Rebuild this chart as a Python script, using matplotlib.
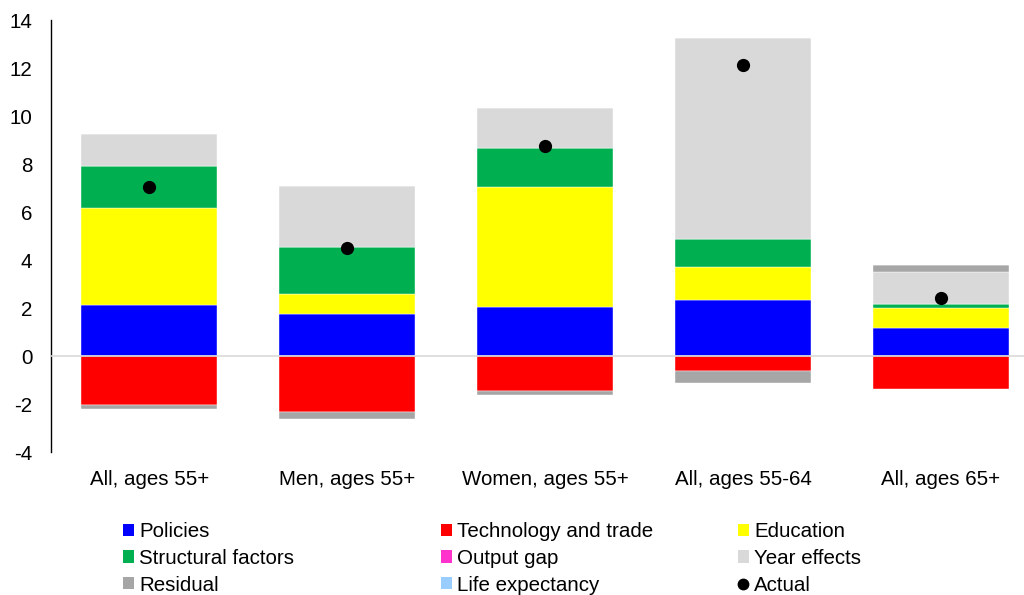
import numpy as np
import matplotlib.pyplot as plt
from matplotlib.patches import Patch
from matplotlib.lines import Line2D

plt.rcParams['font.family'] = ['Liberation Sans', 'DejaVu Sans']
plt.rcParams['axes.unicode_minus'] = False

# =========================
# DATA
# =========================
categories = ["All, ages 55+", "Men, ages 55+", "Women, ages 55+", "All, ages 55-64", "All, ages 65+"]

policies = [2.14, 1.74, 2.04, 2.32, 1.18]
technology = [-2.04, -2.33, -1.46, -0.62, -1.36]
education = [4.03, 0.83, 5.01, 1.39, 0.83]
structural = [1.75, 1.98, 1.62, 1.15, 0.16]
output_gap = [0.0, 0.0, 0.0, 0.0, 0.0]
year_effects = [1.33, 2.55, 1.68, 8.39, 1.33]
residual = [-0.18, -0.28, -0.17, -0.52, 0.28]
life_exp = [0.0, 0.0, 0.0, 0.0, 0.0]
actual = [7.05, 4.51, 8.74, 12.13, 2.43]

series = [
    ("Policies", policies, "#0000FF"),
    ("Technology and trade", technology, "#FF0000"),
    ("Education", education, "#FFFF00"),
    ("Structural factors", structural, "#00B050"),
    ("Output gap", output_gap, "#FF33CC"),
    ("Year effects", year_effects, "#D9D9D9"),
    ("Residual", residual, "#A6A6A6"),
    ("Life expectancy", life_exp, "#99CCFF"),
]

# =========================
# PLOT
# =========================
fig = plt.figure(figsize=(10.24, 5.95), dpi=100)
ax = fig.add_axes([51 / 1024, 1 - 452 / 595, 1 - 51 / 1024, 432 / 595])

x = np.arange(len(categories))
width = 0.69
pos_bottom = np.zeros(len(categories))
neg_bottom = np.zeros(len(categories))

for name, vals, color in series:
    vals = np.array(vals)
    bottom = np.where(vals >= 0, pos_bottom, neg_bottom)
    ax.bar(x, vals, width, bottom=bottom, color=color, edgecolor="white",
           linewidth=0.3, zorder=2)
    pos_bottom = pos_bottom + np.clip(vals, 0, None)
    neg_bottom = neg_bottom + np.clip(vals, None, 0)

ax.plot(x, actual, "o", color="black", markersize=8.5, zorder=4)
ax.axhline(0, color="#D9D9D9", linewidth=1.2, zorder=3)

ax.set_xlim(-0.496, 4.42)
ax.set_ylim(-4, 14)
ax.set_yticks(np.arange(-4, 15, 2))
ax.set_xticks(x)
ax.set_xticklabels(categories)
ax.tick_params(axis="both", length=0, labelsize=14.8)
ax.tick_params(axis="x", pad=13)
ax.tick_params(axis="y", pad=13.5)

for side in ["top", "right", "bottom"]:
    ax.spines[side].set_visible(False)
ax.spines["left"].set_linewidth(1.0)

# =========================
# LEGEND (3 columns, row order)
# =========================
colors = {name: color for name, vals, color in series}
columns = [
    ["Policies", "Structural factors", "Residual"],
    ["Technology and trade", "Output gap", "Life expectancy"],
    ["Education", "Year effects", "Actual"],
]
col_x = [123, 441, 738]

for names, cx in zip(columns, col_x):
    handles = []
    for n in names:
        if n == "Actual":
            handles.append(Line2D([], [], marker="o", color="black", linestyle="",
                                  markersize=7.5))
        else:
            handles.append(Patch(facecolor=colors[n], edgecolor="none"))
    fig.legend(handles, names, loc="upper left",
               bbox_to_anchor=(cx / 1024, 1 - 522 / 595), frameon=False,
               fontsize=14.8, handlelength=0.53, handleheight=0.53,
               handletextpad=0.25, labelspacing=0.38, borderpad=0,
               borderaxespad=0)

fig.savefig("out.png", dpi=100)
